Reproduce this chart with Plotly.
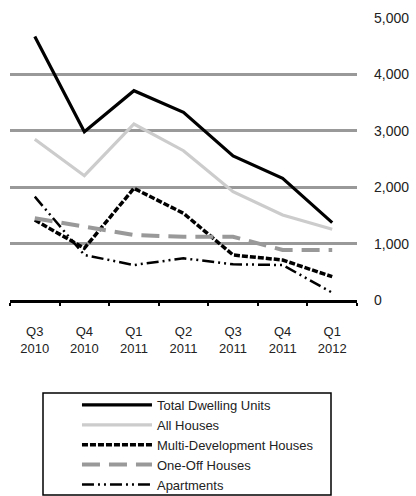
import plotly.graph_objects as go

categories = ["Q3<br>2010", "Q4<br>2010", "Q1<br>2011", "Q2<br>2011", "Q3<br>2011", "Q4<br>2011", "Q1<br>2012"]
total_dwelling = [4670, 2985, 3711, 3327, 2553, 2158, 1371]
all_houses = [2849, 2204, 3121, 2647, 1920, 1507, 1253]
multi_dev = [1418, 917, 1980, 1537, 798, 709, 413]
one_off = [1448, 1300, 1152, 1122, 1122, 887, 887]
apartments = [1832, 798, 620, 739, 633, 620, 130]
y_ticks = [0, 1000, 2000, 3000, 4000, 5000]

fig = go.Figure()
fig.add_trace(go.Scatter(x=categories, y=total_dwelling, name="Total Dwelling Units", mode="lines",
                         line=dict(color="black", width=3.2)))
fig.add_trace(go.Scatter(x=categories, y=all_houses, name="All Houses", mode="lines",
                         line=dict(color="#cccccc", width=3.2)))
fig.add_trace(go.Scatter(x=categories, y=multi_dev, name="Multi-Development Houses", mode="lines",
                         line=dict(color="black", width=3.5, dash="6px,2px")))
fig.add_trace(go.Scatter(x=categories, y=one_off, name="One-Off Houses", mode="lines",
                         line=dict(color="#999999", width=4, dash="18px,9px")))
fig.add_trace(go.Scatter(x=categories, y=apartments, name="Apartments", mode="lines",
                         line=dict(color="black", width=2.5, dash="12px,4px,2px,4px,2px,4px")))

fig.update_layout(
    width=416, height=496,
    margin=dict(l=10, r=59, t=18, b=196, autoexpand=False),
    paper_bgcolor="white", plot_bgcolor="white",
    font=dict(family="Liberation Sans, Arial, sans-serif", size=13, color="#222"),
    showlegend=True,
    legend=dict(x=0.193, y=-0.319, xanchor="left", yanchor="top",
                bgcolor="rgba(0,0,0,0)", borderwidth=0,
                font=dict(size=13), tracegroupgap=0, itemwidth=70),
    shapes=[dict(type="rect", xref="paper", yref="paper",
                 x0=33/347, x1=321/347, y0=(300-495)/282, y1=(300-393)/282,
                 line=dict(color="black", width=1.5), fillcolor="rgba(0,0,0,0)")],
)
fig.update_xaxes(type="category", range=[-0.5, 6.5], automargin=False,
                 showgrid=False, showline=True, linecolor="black", linewidth=3,
                 ticks="outside", tickson="boundaries", ticklen=3, tickwidth=2, tickcolor="black",
                 ticklabelstandoff=17, zeroline=False, tickfont=dict(size=13))
fig.update_yaxes(range=[0, 5000], side="right", tickvals=y_ticks, automargin=False,
                 ticktext=[f"{v:,}" for v in y_ticks],
                 showgrid=True, gridcolor="#999999", gridwidth=3, zeroline=False,
                 showline=False, ticks="", ticklabelstandoff=16, tickfont=dict(size=14))

fig.write_html("out.html", config={"displayModeBar": False},
               post_script="document.body.style.margin='0';")
